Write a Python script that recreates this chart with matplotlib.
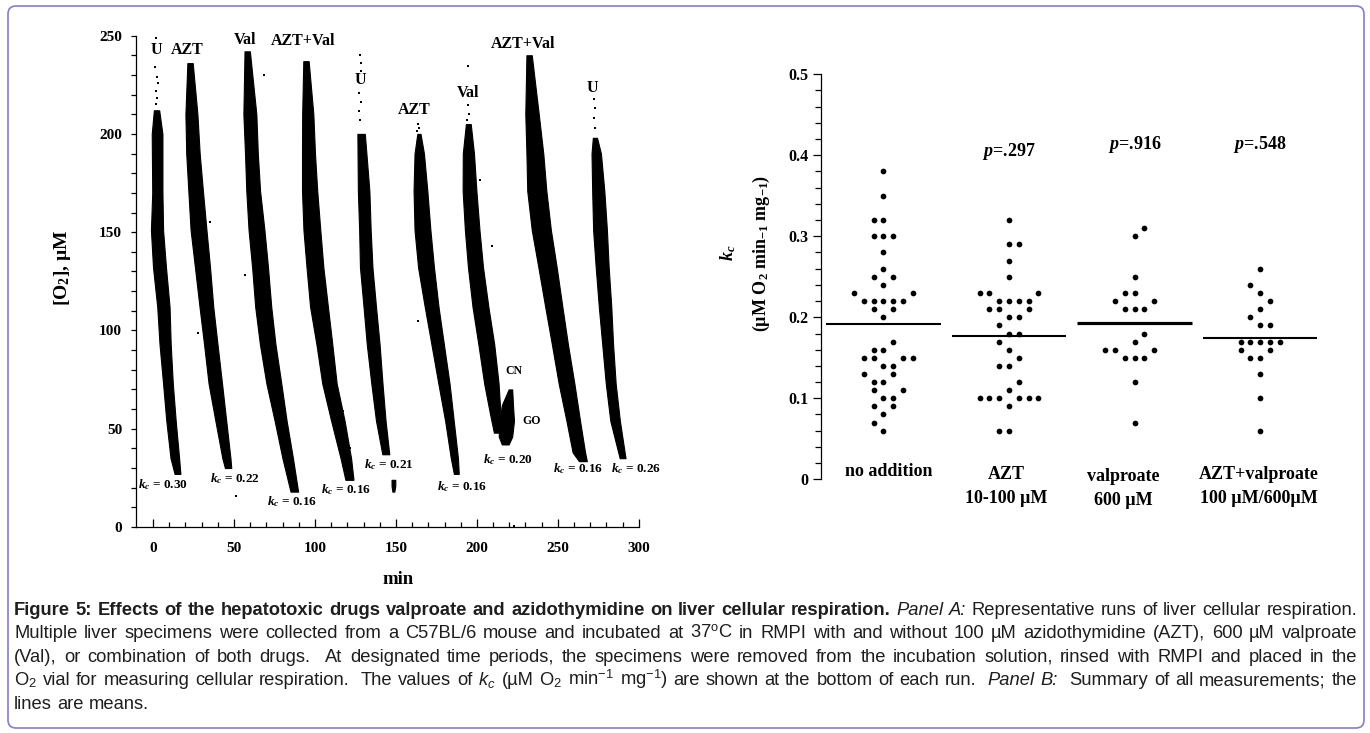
import numpy as np
import matplotlib
matplotlib.use("Agg")
import matplotlib.pyplot as plt
from matplotlib.patches import FancyBboxPatch
from matplotlib.transforms import IdentityTransform

W, H = 1370, 733

# ---------------- panel A: oxygen traces ----------------
# each run: O2 levels and the left / right time edge of the dense dotted band
run_o2 = [
    [212, 200, 170, 151, 132, 112, 93, 73, 54, 35, 27],
    [236, 210, 190, 171, 151, 132, 112, 93, 73, 54, 35, 30],
    [242, 210, 190, 171, 151, 132, 112, 93, 73, 54, 35, 18],
    [237, 210, 190, 171, 151, 132, 112, 93, 73, 54, 35, 24],
    [200, 171, 151, 132, 112, 93, 73, 54, 37],
    [200, 190, 171, 151, 132, 112, 93, 73, 54, 35, 27],
    [205, 190, 171, 151, 132, 112, 93, 73, 58, 48],
    [240, 210, 190, 171, 151, 132, 112, 93, 73, 54, 38, 33.5],
    [198, 190, 171, 151, 132, 112, 93, 73, 54, 35],
    [70, 62, 54, 46, 42],        # CN / GO blob
    [24, 21, 18],                # tail piece of the second U run
]
run_lo = [
    [0.5, -0.8, -0.5, -1.3, 0, 2.6, 4.0, 6.2, 8.2, 10.8, 13.3],
    [21.2, 20.0, 20.5, 21.8, 23.2, 25.9, 28.7, 31.5, 34.3, 38.5, 42.8, 44.4],
    [56.5, 55.8, 56.8, 57.6, 59.0, 61.2, 63.1, 66.0, 70.0, 75.1, 79.9, 84.9],
    [92.8, 92.1, 92.0, 92.0, 92.9, 94.8, 97.0, 100.9, 104.5, 110.0, 115.8, 118.8],
    [126.2, 126.5, 127.3, 127.8, 130.0, 132.0, 134.8, 137.7, 141.6],
    [163.2, 161.5, 160.9, 161.5, 163.7, 167.8, 171.9, 176.2, 180.4, 183.9, 185.8],
    [193.2, 191.3, 191.2, 192.6, 194.5, 197.3, 200.9, 204.5, 208.0, 210.5],
    [230.6, 229.9, 230.6, 231.1, 233.9, 238.0, 242.2, 246.3, 250.5, 255.3, 259.1, 263.0],
    [271.6, 270.8, 271.2, 271.8, 273.4, 275.3, 277.4, 279.6, 282.4, 288.2],
    [219.6, 215.4, 214, 213.5, 215.4],
    [147.3, 147.3, 147.8],
]
run_hi = [
    [3.8, 5.8, 5.8, 6.2, 8.0, 10.2, 10.9, 12.2, 14.0, 16.1, 16.9],
    [24.5, 27.4, 28.8, 30.8, 33.0, 35.2, 37.2, 39.8, 42.6, 45.2, 47.8, 48.3],
    [59.8, 63.8, 64.7, 66.1, 68.8, 71.0, 73.0, 75.6, 79.2, 82.5, 86.4, 89.6],
    [96.1, 99.0, 100.0, 101.4, 103.3, 105.2, 108.0, 110.7, 113.4, 118.3, 122.3, 123.8],
    [130.8, 133.6, 134.4, 135.5, 137.7, 139.9, 141.7, 143.6, 145.9],
    [165.2, 167.3, 169.4, 171.3, 173.5, 176.3, 179.6, 183.1, 185.7, 188.3, 188.8],
    [196.2, 198.2, 199.7, 201.6, 203.8, 207.1, 210.7, 213.4, 214.5, 213.6],
    [233.9, 238.2, 241.0, 242.9, 245.7, 249.3, 252.8, 256.2, 260.2, 263.7, 266.8, 267.9],
    [274.2, 276.6, 278.7, 280.3, 281.4, 283.0, 284.1, 285.7, 288.3, 291.8],
    [221.8, 222.3, 222.9, 221.8, 219.6],
    [149.6, 149.6, 149.0],
]
# sparse points above the dense bands and strays (min, uM)
stray_t = [1.9, 1.4, 2.5, 3.3, 1.9, 2.4, 1.6,
           35, 27.5, 68.6, 56.5, 51.5, 117.6, 121.8,
           128.1, 128.4, 128.6, 127.5, 128.3, 127.3, 128.0,
           163.5, 164.0, 163.0, 163.6,
           194.5, 195.2, 194.0, 194.8, 201.7, 209.6, 222.9,
           272.5, 272.8, 272.2, 273.0]
stray_o2 = [248.6, 234, 229, 226, 222, 218, 215,
            155.2, 98.7, 230.1, 128, 16, 58.8, 40.3,
            239.9, 236, 232, 221, 216, 211.6, 207,
            204.8, 203, 201.5, 104.6,
            214.5, 210, 207, 234.6, 176.6, 142.9, 0.4,
            217.9, 213, 208, 203]

run_names = ["U", "AZT", "Val", "AZT+Val", "U", "AZT", "Val", "AZT+Val", "U"]
run_kc = [0.30, 0.22, 0.16, 0.16, 0.21, 0.16, 0.20, 0.16, 0.26]
name_xy = [(1.9, 242.8), (21.2, 242.8), (56.7, 248), (92.8, 247.3), (128.1, 227.2),
           (161.2, 212.2), (194.8, 221), (228.4, 245.7), (271.6, 223.3)]
kc_xy = [(-9.1, 21.8), (35, 24.7), (70.2, 13), (103.9, 18.9), (130, 31.5),
         (175.5, 20.8), (203.6, 34.5), (247.1, 29.6), (282.9, 29.6)]

# ---------------- panel B: k_c per condition ----------------
groups = ["no addition", "AZT\n10-100 \u00b5M", "valproate\n600 \u00b5M",
          "AZT+valproate\n100 \u00b5M/600\u00b5M"]
kc_none = [0.38, 0.35, 0.32, 0.32, 0.30, 0.30, 0.30, 0.28, 0.26, 0.25, 0.25, 0.24,
           0.23, 0.23, 0.22, 0.22, 0.22, 0.22, 0.22, 0.21, 0.21, 0.20, 0.17, 0.16,
           0.16, 0.15, 0.15, 0.15, 0.15, 0.14, 0.14, 0.13, 0.13, 0.12, 0.12, 0.11,
           0.11, 0.10, 0.10, 0.09, 0.09, 0.08, 0.07, 0.06]
kc_azt = [0.32, 0.29, 0.29, 0.27, 0.25, 0.23, 0.23, 0.23, 0.22, 0.22, 0.22, 0.22,
          0.21, 0.21, 0.21, 0.20, 0.20, 0.19, 0.18, 0.18, 0.17, 0.16, 0.15, 0.14,
          0.14, 0.12, 0.11, 0.10, 0.10, 0.10, 0.10, 0.10, 0.10, 0.09, 0.06, 0.06]
kc_val = [0.31, 0.30, 0.25, 0.23, 0.23, 0.22, 0.22, 0.21, 0.21, 0.21, 0.18, 0.17,
          0.16, 0.16, 0.16, 0.15, 0.15, 0.15, 0.12, 0.07]
kc_both = [0.26, 0.24, 0.23, 0.22, 0.21, 0.20, 0.19, 0.19, 0.17, 0.17, 0.17, 0.17,
           0.17, 0.16, 0.16, 0.15, 0.15, 0.13, 0.10, 0.06]
p_text = ["", "p=.297", "p=.916", "p=.548"]

# horizontal slot of each dot in the dot plot (layout only)
slot_none = [0, 0, -1, 0, -1, 0, 1, 0, 0, -1, 1, 0, -3, 3, -2, -1, 0, 1, 2, -1, 1, 0,
             1, -1, 0, -2, -1, 2, 3, 0, 1, -2, 1, -1, 0, -1, 2, 0, 1, -1, 1, 0, -1, 0]
slot_azt = [0, 0, 1, 0, 0, -3, -2, 3, -1, 0, 1, 2, -2, -1, 2, 0, 1, -1, 0, 1, -1, 0,
            1, -1, 0, 1, 0, -3, -2, -1, 1, 2, 3, 0, -1, 0]
slot_val = [1, 0, 0, -1, 0, -2, 2, -1, 0, 1, 1, 0, -3, -2, 2, -1, 0, 1, 0, 0]
slot_both = [0, -1, 0, 1, 0, -1, 0, 1, -2, -1, 0, 1, 2, -2, 1, -1, 0, 0, 0, 0]

# ---------------- style ----------------
plt.rcParams['font.family'] = ['Liberation Serif', 'DejaVu Serif']
plt.rcParams['font.weight'] = 'bold'
plt.rcParams['mathtext.fontset'] = 'custom'
plt.rcParams['mathtext.rm'] = 'Liberation Serif:bold'
plt.rcParams['mathtext.it'] = 'Liberation Serif:italic:bold'
plt.rcParams['mathtext.bf'] = 'Liberation Serif:bold'
# sans faces for the caption (sf upright, tt used for the italic k_c)
plt.rcParams['mathtext.sf'] = 'Liberation Sans:weight=normal'
plt.rcParams['mathtext.tt'] = 'Liberation Sans:italic:weight=normal'

fig = plt.figure(figsize=(W / 100, H / 100), dpi=100)

# ---------------- panel A ----------------
ax1 = fig.add_axes([136.2 / W, 1 - 527 / H, (639.3 - 136.2) / W, (527 - 35.6) / H])
for o2, lo, hi in zip(run_o2, run_lo, run_hi):
    ax1.fill_betweenx(o2, lo, hi, color='black', linewidth=0.8)
ax1.scatter(stray_t, stray_o2, s=4, marker='s', color='black', linewidths=0, clip_on=False)

for name, (x, y) in zip(run_names, name_xy):
    ax1.text(x, y, name, fontsize=11.5, ha='center', va='center')
for kc, (x, y) in zip(run_kc, kc_xy):
    ax1.text(x, y, "$k_c$ = %.2f" % kc, fontsize=9.5, ha='left', va='center', clip_on=False)
ax1.text(222.9, 79.6, "CN", fontsize=8.5, ha='center', va='center')
ax1.text(233.9, 53.9, "GO", fontsize=8.5, ha='center', va='center')

ax1.set_xlim(-10.4, 300.3)
ax1.set_ylim(0, 250)
for s in ['top', 'right']:
    ax1.spines[s].set_visible(False)
for s in ['left', 'bottom']:
    ax1.spines[s].set_linewidth(0.9)
ax1.set_xticks(range(0, 301, 50))
ax1.set_xticks([v for v in range(10, 300, 10) if v % 50], minor=True)
ax1.set_yticks(range(0, 251, 50))
ax1.set_yticks([v for v in range(10, 250, 10) if v % 50], minor=True)
ax1.tick_params(axis='x', which='major', direction='in', length=5.8, width=0.9,
                pad=11, labelsize=11)
ax1.tick_params(axis='x', which='minor', direction='in', length=3.3, width=0.9)
ax1.tick_params(axis='y', which='both', direction='out', length=3.6, width=0.9,
                pad=6.5, labelsize=11)
fig.text(62.5 / W, 1 - 268 / H, "[O$_2$], \u00b5M", rotation=90, fontsize=14,
         ha='center', va='center')
fig.text(398 / W, 1 - 580 / H, "min", fontsize=13.5, ha='center', va='center')

# ---------------- panel B ----------------
ax2 = fig.add_axes([820.7 / W, 1 - 479.3 / H, (1322.9 - 820.7) / W, (479.3 - 74.3) / H])
dx = 0.078
all_kc = [kc_none, kc_azt, kc_val, kc_both]
all_slots = [slot_none, slot_azt, slot_val, slot_both]
mean_lw = [1.5, 1.5, 2.3, 1.5]
for i, (vals, slots) in enumerate(zip(all_kc, all_slots)):
    xs = i + dx * np.array(slots)
    ax2.scatter(xs, vals, s=17, color='black', linewidths=0, clip_on=False, zorder=3)
    ax2.hlines(np.mean(vals), i - 0.455, i + 0.455, color='black', linewidth=mean_lw[i])

p_y = [0, 0.405, 0.413, 0.413]
for i, p in enumerate(p_text):
    if p:
        ax2.text(i, p_y[i], "$p$" + p[1:], fontsize=13, ha='center', va='center')

label_x = [0.044, 0.98, 1.91, 2.99]
for i, g in enumerate(groups):
    lines = g.split("\n")
    if len(lines) == 1:
        ax2.text(label_x[i], 0.0094, lines[0], fontsize=13, ha='center', va='center',
                 clip_on=False)
    else:
        top_y = 0.004 if i == 2 else 0.006
        ax2.text(label_x[i], top_y, lines[0], fontsize=13, ha='center', va='center',
                 clip_on=False)
        ax2.text(label_x[i], top_y - 0.030, lines[1], fontsize=13, ha='center',
                 va='center', clip_on=False)

ax2.set_xlim(-0.5, 3.5)
ax2.set_ylim(0, 0.5)
for s in ['top', 'right', 'bottom']:
    ax2.spines[s].set_visible(False)
ax2.spines['left'].set_linewidth(0.9)
ax2.set_xticks([])
ax2.set_yticks(np.arange(0, 0.51, 0.1))
ax2.set_yticklabels(["0", "0.1", "0.2", "0.3", "0.4", "0.5"])
ax2.set_yticks([v / 100 for v in range(2, 50, 2) if v % 10], minor=True)
ax2.tick_params(axis='y', which='major', direction='out', length=5.8, width=0.9,
                pad=3, labelsize=11.5)
ax2.tick_params(axis='y', which='minor', direction='out', length=4, width=0.9)
fig.text(727.8 / W, 1 - 253 / H, "$k_c$", rotation=90, fontsize=13,
         ha='center', va='center')
fig.text(761 / W, 1 - 253 / H, "(\u00b5M O$_2$ min$_{-1}$ mg$_{-1}$)", rotation=90,
         fontsize=13, ha='center', va='center')

# ---------------- caption (justified) ----------------
cap_color = '#1e1e1e'
cap_x0, cap_x1 = 14, 1357
cap_y = [608, 631.5, 655, 678.5, 702]
caption = [
    [('b', "Figure 5: Effects of the hepatotoxic drugs valproate and azidothymidine on liver cellular respiration."),
     ('i', " Panel A:"), ('r', " Representative runs of liver cellular respiration.")],
    [('r', "Multiple liver specimens were collected from a C57BL/6 mouse and incubated at "
           "37$^\\mathsf{o}$C in RMPI with and without 100 \u00b5M azidothymidine (AZT), 600 \u00b5M valproate")],
    [('r', "(Val), or combination of both drugs.  At designated time periods, the specimens "
           "were removed from the incubation solution, rinsed with RMPI and placed in the")],
    [('r', "O$_\\mathsf{2}$ vial for measuring cellular respiration.  The values of $\\mathtt{k_c}$ "
           "(\u00b5M O$_\\mathsf{2}$ min$^\\mathsf{-1}$ mg$^\\mathsf{-1}$) are shown at the bottom of each run."),
     ('i', "  Panel B:"), ('r', "  Summary of all measurements; the")],
    [('r', "lines are means.")],
]
renderer = fig.canvas.get_renderer()
size0 = 10.0
space_em = 0.278
cap_lines = []
for segs in caption:
    words = []
    gap = 0
    for style, text in segs:
        for j, part in enumerate(text.split(' ')):
            if j > 0:
                gap += 1
            if part:
                words.append((part, style, gap if words else 0))
                gap = 0
    arts = []
    for part, style, g in words:
        t = fig.text(0, 0, part, fontsize=size0, color=cap_color,
                     family=['Liberation Sans', 'DejaVu Sans'],
                     fontweight='bold' if style == 'b' else 'normal',
                     fontstyle='italic' if style == 'i' else 'normal',
                     ha='left', va='baseline')
        arts.append((t, g))
    cap_lines.append(arts)

# font size so that the fullest justified line fits with ordinary word spaces
per_pt = []
for arts in cap_lines[:-1]:
    words_w = sum(t.get_window_extent(renderer).width for t, _ in arts) / size0
    gaps_w = sum(g for _, g in arts) * space_em * 100 / 72
    per_pt.append(words_w + gaps_w)
cap_size = 0.995 * (cap_x1 - cap_x0) / max(per_pt)

for k, arts in enumerate(cap_lines):
    base = 1 - (cap_y[k] + 0.36 * cap_size * 100 / 72) / H
    widths = []
    for t, g in arts:
        t.set_fontsize(cap_size)
        t.set_y(base)
        widths.append(t.get_window_extent(renderer).width)
    ngap = sum(g for _, g in arts)
    if k < len(cap_lines) - 1:
        unit = (cap_x1 - cap_x0 - sum(widths)) / ngap
    else:
        unit = space_em * cap_size * 100 / 72
    x = cap_x0
    for (t, g), w in zip(arts, widths):
        x += g * unit
        t.set_x(x / W)
        x += w

# frame round the whole figure
border = FancyBboxPatch((8, 5), 1356, 722, boxstyle="round,pad=0,rounding_size=8",
                        transform=IdentityTransform(), fill=False,
                        edgecolor='#8a7cc2', linewidth=1.2)
fig.add_artist(border)

fig.savefig("out.png", dpi=100)
